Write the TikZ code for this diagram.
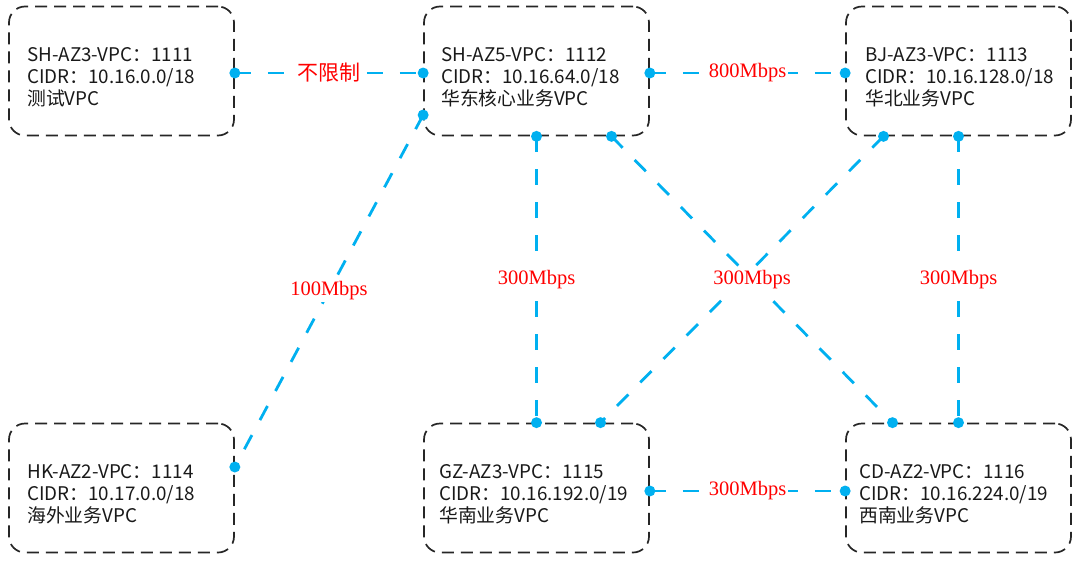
\documentclass[tikz,border=0pt]{standalone}
\usepackage{fontspec}
\setmainfont{Noto Sans CJK SC}
\newfontfamily\cjk{Noto Sans CJK SC}
\newfontfamily\lblserif{Liberation Serif}
\usetikzlibrary{calc}
\definecolor{linkblue}{RGB}{0,176,240}
\definecolor{lblred}{RGB}{255,0,0}
\tikzset{
  vpcbox/.style={draw=black!85, line width=1.7pt, dash pattern=on 12pt off 7pt,
    rounded corners=16pt, minimum width=225pt, minimum height=129pt, inner sep=0pt},
  vpctext/.style={anchor=west, align=left, inner sep=0pt, font=\fontsize{18.8}{22}\selectfont\cjk, text=black!90},
  link/.style={draw=linkblue, line width=2.8pt, dash pattern=on 16pt off 17pt},
  dotmark/.style={circle, fill=linkblue, inner sep=0pt, minimum size=11pt},
  bw/.style={fill=white, inner sep=2pt, text=lblred, font=\fontsize{20.5}{22}\selectfont\lblserif},
  bwc/.style={fill=white, inner sep=2pt, text=lblred, font=\fontsize{21}{22}\selectfont\cjk}
}
\begin{document}
\begin{tikzpicture}[x=1pt,y=-1pt]
\useasboundingbox (0,0) rectangle (1080,563);
\fill[white] (0,0) rectangle (1080,563);
% boxes
\node[vpcbox] (b1) at (121.5,71) {};
\node[vpcbox] (b2) at (536.5,71) {};
\node[vpcbox] (b3) at (958.5,71) {};
\node[vpcbox] (b4) at (121.5,488) {};
\node[vpcbox] (b5) at (536.5,488) {};
\node[vpcbox] (b6) at (958.5,488) {};
% texts
\node[vpctext] (t1) at ([xshift=19pt,yshift=-6pt]b1.west) {SH-AZ3-VPC：1111\\CIDR：10.16.0.0/18\\测试VPC};
\node[vpctext] (t2) at ([xshift=18pt,yshift=-6pt]b2.west) {SH-AZ5-VPC：1112\\CIDR：10.16.64.0/18\\华东核心业务VPC};
\node[vpctext] (t3) at ([xshift=20pt,yshift=-6pt]b3.west) {BJ-AZ3-VPC：1113\\CIDR：10.16.128.0/18\\华北业务VPC};
\node[vpctext] (t4) at ([xshift=19pt,yshift=-6pt]b4.west) {HK-AZ2-VPC：1114\\CIDR：10.17.0.0/18\\海外业务VPC};
\node[vpctext] (t5) at ([xshift=16pt,yshift=-6pt]b5.west) {GZ-AZ3-VPC：1115\\CIDR：10.16.192.0/19\\华南业务VPC};
\node[vpctext] (t6) at ([xshift=14pt,yshift=-6pt]b6.west) {CD-AZ2-VPC：1116\\CIDR：10.16.224.0/19\\西南业务VPC};
% connection points
\coordinate (p1e) at ([yshift=-2pt]b1.east);
\coordinate (p2w) at ([yshift=-2pt]b2.west);
\coordinate (p2wl) at ([yshift=-44pt]b2.west);
\coordinate (p4e) at ([yshift=21pt]b4.east);
\coordinate (p2e) at ([yshift=-2pt]b2.east);
\coordinate (p3w) at ([yshift=-2pt]b3.west);
\coordinate (p2s) at (b2.south);
\coordinate (p2sr) at ([xshift=75pt]b2.south);
\coordinate (p5n) at (b5.north);
\coordinate (p5nr) at ([xshift=64pt]b5.north);
\coordinate (p3sl) at ([xshift=-75pt]b3.south);
\coordinate (p3s) at (b3.south);
\coordinate (p6nl) at ([xshift=-66pt]b6.north);
\coordinate (p6n) at (b6.north);
\coordinate (p5e) at ([yshift=-3pt]b5.east);
\coordinate (p6w) at ([yshift=-3pt]b6.west);
% links
\draw[link] (p1e) -- node[bwc] (l1) {不限制} (p2w);
\draw[link] (p2wl) -- node[bw] (l2) {100Mbps} (p4e);
\draw[link] (p2e) -- node[bw] (l3) {800Mbps} (p3w);
\draw[link] (p2s) -- node[bw] (l4) {300Mbps} (p5n);
\draw[link] (p3sl) -- (p5nr);
\draw[link] (p2sr) -- node[bw, pos=0.5] (l5) {300Mbps} (p6nl);
\draw[link] (p3s) -- node[bw] (l6) {300Mbps} (p6n);
\draw[link] (p5e) -- node[bw] (l7) {300Mbps} (p6w);
% dots
\foreach \p in {p1e,p2w,p2wl,p4e,p2e,p3w,p2s,p2sr,p5n,p5nr,p3sl,p3s,p6nl,p6n,p5e,p6w}
  \node[dotmark] at (\p) {};
\end{tikzpicture}
\end{document}
